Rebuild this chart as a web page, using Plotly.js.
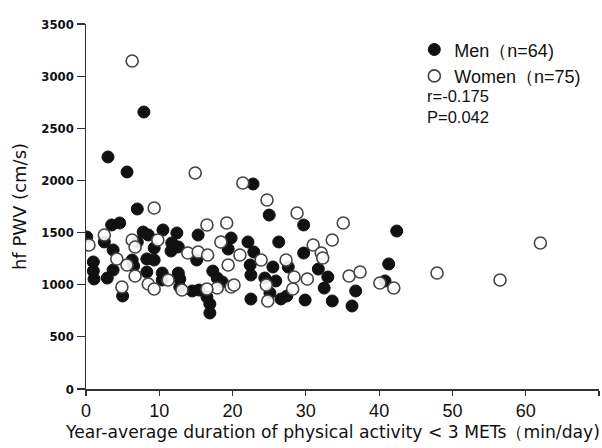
<!DOCTYPE html>
<html>
<head>
<meta charset="utf-8">
<script src="https://cdn.plot.ly/plotly-3.0.1.min.js"></script>
<style>html,body{margin:0;padding:0;background:#fff;}#chart{width:602px;height:448px;}</style>
</head>
<body>
<div id="chart"></div>
<script>
// Men (filled circles): activity (min/day) and hf PWV (cm/s)
const menX = [7.9,3.0,5.6,0.1,1.0,1.0,1.1,2.5,3.7,3.7,2.9,5.0,3.5,4.6,7.0,7.0,6.3,6.5,7.8,8.5,9.3,8.3,9.3,8.3,10.5,12.4,11.7,12.6,15.1,15.3,10.4,10.4,12.6,12.8,12.8,14.5,15.4,11.6,19.8,19.4,17.3,17.9,18.6,16.5,16.9,16.9,22.8,25.0,29.7,22.1,26.3,22.9,29.7,22.4,22.5,25.5,27.6,24.4,25.9,25.1,22.5,26.6,27.4,29.9,42.4,31.7,33.0,32.5,33.6,36.3,36.8,41.3,40.8];
const menY = [2656,2225,2081,1458,1218,1131,1055,1410,1333,1141,1064,892,1573,1592,1726,1410,1237,1179,1505,1477,1352,1247,1237,1122,1525,1496,1400,1362,1237,1477,1112,1045,1112,1055,978,940,949,1323,1448,1342,1131,1064,1026,882,815,729,1966,1668,1573,1410,1410,1314,1304,1189,1093,1170,1170,1064,1036,921,863,863,892,853,1515,1150,1074,968,844,796,940,1199,1036];
// Women (open circles)
const womenX = [6.3,14.9,0.4,2.5,4.2,4.9,9.3,6.3,6.7,5.6,6.7,9.8,8.5,9.3,11.2,13.1,13.9,15.3,16.6,16.5,19.2,18.4,19.4,19.8,17.9,16.5,21.4,24.7,28.8,21.0,23.9,27.3,28.4,24.6,24.8,28.2,20.2,30.2,35.1,33.6,31.0,32.1,32.3,35.9,37.4,40.1,42.0,47.9,56.5,62.0];
const womenY = [3145,2071,1381,1477,1247,978,1736,1429,1362,1189,1084,1429,1007,959,1045,949,1304,1314,1285,1573,1592,1410,1189,978,968,959,1975,1812,1688,1285,1237,1237,1074,997,844,959,997,1055,1592,1429,1381,1304,1256,1084,1122,1016,968,1112,1045,1400];
const legendNames = ['Men（n=64)', 'Women（n=75)'];
const statsText = ['r=-0.175', 'P=0.042'];
const yTicks = [0,500,1000,1500,2000,2500,3000,3500];
const xTicks = [0,10,20,30,40,50,60,70];
const xTitle = 'Year-average duration of physical activity < 3 METs（min/day)';
const yTitle = 'hf PWV (cm/s)';

const traces = [
  {x: menX, y: menY, type:'scatter', mode:'markers', name: legendNames[0], legendgroup:'m',
   marker:{size:12, color:'#111', line:{color:'#111', width:1}}},
  {x: womenX, y: womenY, type:'scatter', mode:'markers', name: legendNames[1], legendgroup:'w',
   marker:{size:12, color:'rgba(255,255,255,0.9)', line:{color:'#444', width:1.6}}}
];

const layout = {
  width:602, height:448,
  margin:{l:86, r:3, t:24, b:59},
  paper_bgcolor:'#fff', plot_bgcolor:'#fff',
  showlegend:true,
  legend:{x:0.64, y:0.98, xanchor:'left', yanchor:'top', traceorder:'grouped', tracegroupgap:0,
          font:{family:'Liberation Sans, Arial, sans-serif', size:18, color:'#111'}, bgcolor:'rgba(0,0,0,0)'},
  xaxis:{range:[0,70], tickvals:xTicks, ticktext:xTicks.map(String), showgrid:false, zeroline:false,
         showline:true, linecolor:'#333', linewidth:1.5, ticks:'outside', ticklen:5, tickcolor:'#333', tickwidth:1.2,
         tickfont:{family:'Liberation Sans Narrow, Arial Narrow, sans-serif', size:18, color:'#111'}},
  yaxis:{range:[0,3500], tickvals:yTicks, ticktext:yTicks.map(String), showgrid:false, zeroline:false,
         showline:true, linecolor:'#333', linewidth:1.5, ticks:'outside', ticklen:8, tickcolor:'#333', tickwidth:1.2,
         tickfont:{family:'DejaVu Sans Condensed, sans-serif', size:13, color:'#111', weight:'bold'},
         title:{text:yTitle, standoff:10, font:{family:'DejaVu Sans, sans-serif', size:18, color:'#111'}}},
  annotations:[
    {xref:'paper', yref:'paper', x:0.481, y:-0.118, xanchor:'center', yanchor:'middle', showarrow:false, text:xTitle,
     font:{family:'DejaVu Sans, sans-serif', size:17.2, color:'#111'}},
    {xref:'paper', yref:'paper', x:0.66, y:0.775, xanchor:'left', yanchor:'middle', align:'left', showarrow:false,
     text:statsText.join('<br>'),
     font:{family:'Liberation Sans, Arial, sans-serif', size:16.5, color:'#111'}}
  ]
};
Plotly.newPlot('chart', traces, layout, {displayModeBar:false, staticPlot:true});
</script>
</body>
</html>
